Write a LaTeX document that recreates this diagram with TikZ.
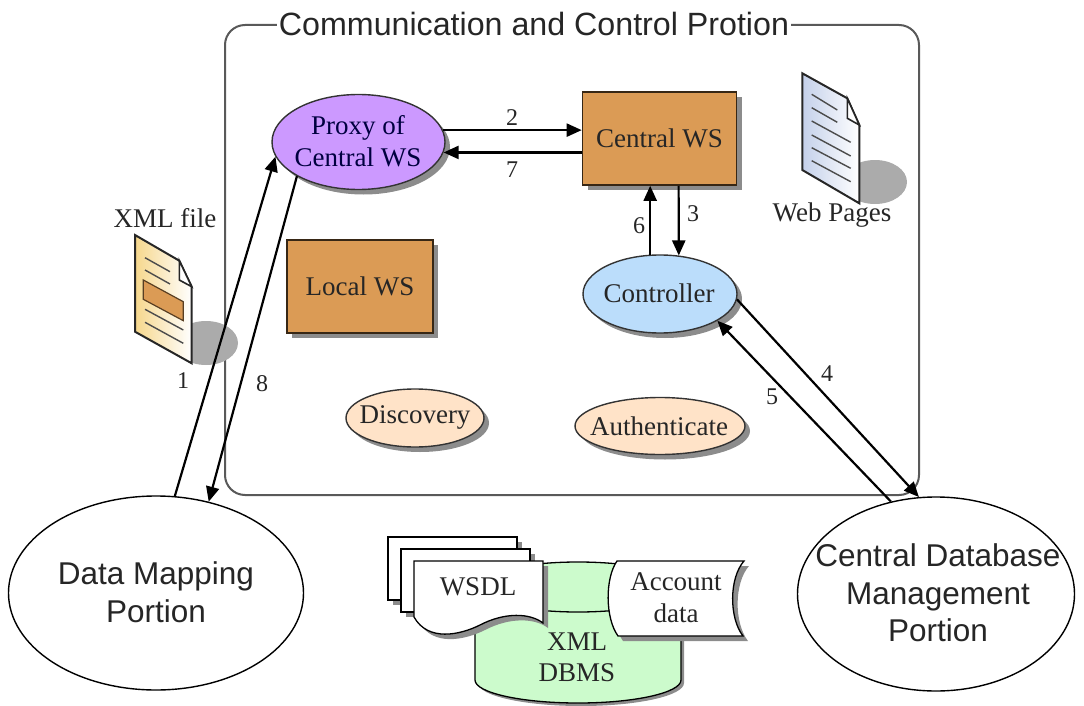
\documentclass[tikz,border=0pt]{standalone}
\usepackage{fontspec}
\setmainfont{Liberation Serif}
\newfontfamily\arialfont{Liberation Sans}
\usetikzlibrary{shapes.geometric,shadows,arrows.meta}
\definecolor{wsbrown}{HTML}{DB9B55}
\definecolor{proxyviolet}{HTML}{CC99FF}
\definecolor{ctrlblue}{HTML}{BBDDFB}
\definecolor{peach}{HTML}{FFE3C8}
\definecolor{dbgreen}{HTML}{CCFBCC}
\definecolor{shadowgray}{HTML}{8C8C8C}
\definecolor{docshadow}{HTML}{ABABAB}
\definecolor{inkdark}{HTML}{262626}
\definecolor{xmlyellow}{HTML}{F6D78C}
\definecolor{webblue}{HTML}{C4D0EA}
\tikzset{
  serifsize/.style={font=\fontsize{27}{32}\selectfont,text=inkdark},
  sanssize/.style={font=\arialfont\fontsize{31.5}{37.5}\selectfont,text=inkdark},
  numlabel/.style={font=\fontsize{24}{28}\selectfont,text=inkdark,inner sep=0pt},
  dropgray/.style={drop shadow={shadow xshift=5pt,shadow yshift=-5pt,fill=shadowgray,opacity=1}},
  wsbox/.style={rectangle,draw=black!75!wsbrown,line width=1.6pt,fill=wsbrown,minimum width=154pt,minimum height=93pt,inner sep=0pt,serifsize,dropgray,text=black!85},
  oval/.style={ellipse,draw=black!80,line width=1.4pt,inner sep=0pt,dropgray},
  ovaltext/.style={serifsize,inner sep=0pt,align=center},
  bigoval/.style={ellipse,draw=black,line width=1.4pt,fill=white,inner sep=0pt,minimum height=194pt},
  bigtext/.style={sanssize,inner sep=0pt,align=center},
  flow/.style={line width=2.2pt,draw=black,-{Triangle[length=15pt,width=13pt]}},
  docedge/.style={line width=2pt,draw=black!85,line join=miter},
  docline/.style={line width=1.4pt,draw=black!70},
  plainshape/.style={draw=black,line width=1.3pt,fill=white},
  shapeshadow/.style={fill=shadowgray,draw=none}
}
\begin{document}
\begin{tikzpicture}[x=1pt,y=-1pt]
\useasboundingbox (0,0) rectangle (1084,706);
% frame
\draw[line width=2pt,draw=black!65,rounded corners=20pt] (225,25) rectangle (919,495);
\node[font=\arialfont\fontsize{32.2}{38}\selectfont,text=inkdark,fill=white,inner sep=1.5pt] (title) at (534,24) {Communication and Control Protion};

% Web Pages document
\fill[docshadow] (875,182) ellipse [x radius=32,y radius=22];
\path[docedge,left color=webblue,right color=white] (802.3,73.3) -- (847.3,98.3) -- (859.3,125) -- (859.3,203.3) -- (802.3,170) -- cycle;
\draw[line width=1.6pt,draw=black!85,fill=white] (847.3,98.3) -- (847.3,118.3) -- (859.3,125) -- cycle;
\foreach \ya/\xb/\yb in {94.3/837.3/110,107.7/837.3/122.3,121/850.7/142.3,135/850.7/156,147.7/850.7/168.3,160.7/850.7/181.7}
  \draw[docline] (811.7,\ya) -- (\xb,\yb);
\node[serifsize,inner sep=0pt] (webpages) at (832,215) {Web Pages};

% XML document
\fill[docshadow] (206,343) ellipse [x radius=32,y radius=22];
\path[docedge,left color=xmlyellow,right color=white] (135,235) -- (179.3,260.7) -- (191.7,286.7) -- (191.7,363.3) -- (135,331.7) -- cycle;
\draw[line width=1.6pt,draw=black!85,fill=white] (179.3,260.7) -- (179.3,280) -- (191.7,286.7) -- cycle;
\draw[docline] (145,257.7) -- (170,271.7);
\draw[docline] (145,270) -- (170,284);
\draw[docline] (145,309.3) -- (183.3,330);
\draw[docline] (145,322.3) -- (183.3,343.3);
\draw[line width=1.2pt,draw=black!60!wsbrown,fill=wsbrown] (143.3,280) -- (183.3,301.7) -- (183.3,320.7) -- (143.3,299.3) -- cycle;
\node[serifsize,inner sep=0pt] (xmlfile) at (165,218) {XML file};

% main nodes
\node[oval,fill=proxyviolet,minimum width=173pt,minimum height=95pt] (proxy) at (358.5,142) {};
\node[ovaltext,text=black!75!blue] (proxytext) at (358,141) {Proxy of\\Central WS};
\node[wsbox] (central) at (659.5,138.5) {Central WS};
\node[wsbox,minimum width=146pt] (local) at (360,286.5) {Local WS};
\node[oval,fill=ctrlblue,minimum width=154pt,minimum height=78pt] (controller) at (660,294) {};
\node[ovaltext] (controllertext) at (659,293) {Controller};
\node[oval,fill=peach,minimum width=138pt,minimum height=58pt] (discovery) at (415,418) {};
\node[ovaltext] (discoverytext) at (415,417) {Discovery};
\node[oval,fill=peach,minimum width=170pt,minimum height=57pt] (auth) at (660,426) {};
\node[ovaltext] (authtext) at (659,426) {Authenticate};
\node[bigoval,minimum width=295pt] (datamap) at (156,593) {};
\node[bigtext] (datamaptext) at (156,592) {Data Mapping\\Portion};
\node[bigoval,minimum width=277pt] (centraldb) at (936,594) {};
\node[bigtext] (centraldbtext) at (938,593) {Central Database\\Management\\Portion};

% flows
\draw[flow] (datamap.79) -- (proxy.190);
\draw[flow] (proxy.209) -- (datamap.60);
\draw[flow] (proxy.8) -- (proxy.8 -| central.west);
\draw[flow] (proxy.-7 -| central.west) -- (proxy.-7);
\draw[flow] (central.-68.3) -- (controller.64.6);
\draw[flow] (controller.104) -- (controller.104 |- central.south);
\draw[flow] (controller.-4.5) -- (centraldb.100);
\draw[flow] (centraldb.116) -- (controller.-25.8);

\node[numlabel] (n2) at (512,118) {2};
\node[numlabel] (n7) at (512,170) {7};
\node[numlabel] (n6) at (639,226) {6};
\node[numlabel] (n3) at (693,214) {3};
\node[numlabel] (n4) at (827,374) {4};
\node[numlabel] (n5) at (772,397) {5};
\node[numlabel] (n1) at (183,381) {1};
\node[numlabel] (n8) at (262,384) {8};

% XML DBMS cylinder (with y=-1pt the arc angles run mirrored)
\fill[shadowgray] (478,590) -- (478,683) arc[start angle=180,end angle=0,x radius=103,y radius=23] -- (684,590) -- cycle;
\path[draw=black,line width=1.3pt,fill=dbgreen] (475,587) arc[start angle=180,end angle=360,x radius=103,y radius=25] -- (681,680) arc[start angle=0,end angle=180,x radius=103,y radius=23] -- cycle;
\draw[line width=1.3pt,draw=black] (475,587) arc[start angle=180,end angle=0,x radius=103,y radius=25];
\node[serifsize,inner sep=0pt,align=center,font=\fontsize{27}{31}\selectfont] (dbms) at (577,657) {XML\\DBMS};

% WSDL pages
\newcommand{\wavepage}[2]{%
  \fill[shadowgray,shift={(5,5)}] (#1,#2) -- (#1+129,#2) -- (#1+129,#2+63) -- (#1,#2+63) -- cycle;
  \draw[plainshape] (#1,#2) -- (#1+129,#2) -- (#1+129,#2+63) -- (#1,#2+63) -- cycle;}
\wavepage{388}{537}
\wavepage{401}{549}
\fill[shadowgray,shift={(5,5)}] (414,561) -- (543,561) -- (543,623) .. controls (530,613) and (505,612) .. (480,625) .. controls (460,635) and (428,642) .. (414,617) -- cycle;
\draw[plainshape] (414,561) -- (543,561) -- (543,623) .. controls (530,613) and (505,612) .. (480,625) .. controls (460,635) and (428,642) .. (414,617) -- cycle;
\node[serifsize,inner sep=0pt] (wsdl) at (478,587) {WSDL};

% Account data
\fill[shadowgray,shift={(5,5)}] (617,561) -- (744,561) .. controls (729,578) and (729,618) .. (743,636) -- (618,636) .. controls (605,618) and (605,578) .. (617,561) -- cycle;
\draw[plainshape] (617,561) -- (744,561) .. controls (729,578) and (729,618) .. (743,636) -- (618,636) .. controls (605,618) and (605,578) .. (617,561) -- cycle;
\node[serifsize,inner sep=0pt,align=center] (account) at (676,598) {Account\\data};
\end{tikzpicture}
\end{document}
